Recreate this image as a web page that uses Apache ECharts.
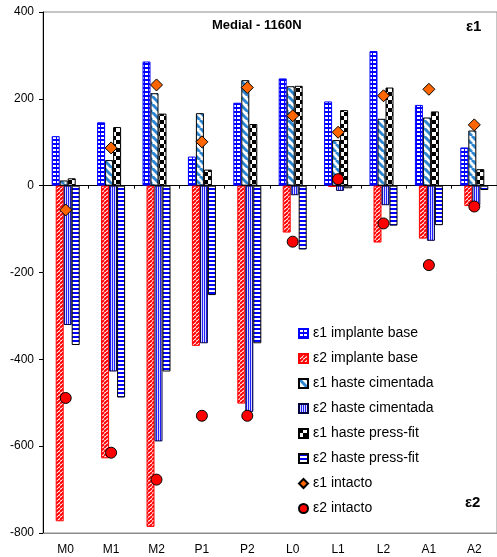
<!DOCTYPE html>
<html>
<head>
<meta charset="utf-8">
<script src="https://cdn.jsdelivr.net/npm/echarts@6/dist/echarts.min.js"></script>
<style>
  html, body { margin: 0; padding: 0; background: #fff; }
  #medialChart { width: 497px; height: 557px; }
</style>
</head>
<body>
<div id="medialChart"></div>
<script>
  // 数据
  const categories = ['M0', 'M1', 'M2', 'P1', 'P2', 'L0', 'L1', 'L2', 'A1', 'A2'];
  const e1ImplanteBase   = [114, 146, 286, 67, 191, 247, 194, 310, 186, 88];
  const e2ImplanteBase   = [-773, -628, -786, -369, -502, -108, -3, -131, -122, -47];
  const e1HasteCimentada = [12, 59, 213, 167, 243, 229, 105, 154, 157, 127];
  const e2HasteCimentada = [-321, -428, -589, -363, -521, -22, -12, -45, -127, -45];
  const e1HastePressFit  = [17, 135, 166, 37, 142, 230, 174, 226, 171, 38];
  const e2HastePressFit  = [-367, -488, -428, -252, -363, -147, -6, -92, -91, -10];
  const e1Intacto        = [-56, 87, 232, 101, 226, 161, 123, 207, 222, 140];
  const e2Intacto        = [-489, -615, -677, -530, -530, -129, 15, -87, -183, -48];
  const yTicks = { min: -800, max: 400, interval: 200 };

  const fontFamily = 'Liberation Sans, Arial, sans-serif';

  // 填充图案
  function makePattern(w, h, draw) {
    const c = document.createElement('canvas');
    c.width = w;
    c.height = h;
    draw(c.getContext('2d'), w, h);
    return { image: c, repeat: 'repeat' };
  }

  const brickBlue = makePattern(4, 4, function (ctx) {
    ctx.fillStyle = '#0000ff';
    ctx.fillRect(0, 0, 4, 4);
    ctx.fillStyle = '#ffffff';
    ctx.fillRect(1, 1, 3, 2);
  });
  const diagRed = makePattern(4, 4, function (ctx, s) {
    ctx.fillStyle = '#ffffff';
    ctx.fillRect(0, 0, s, s);
    ctx.strokeStyle = '#ff0000';
    ctx.lineWidth = 2;
    [-s, 0, s].forEach(function (x0) {
      ctx.beginPath();
      ctx.moveTo(x0, s);
      ctx.lineTo(x0 + s, 0);
      ctx.stroke();
    });
  });
  const diagLightBlue = makePattern(8, 8, function (ctx, s) {
    ctx.fillStyle = '#ffffff';
    ctx.fillRect(0, 0, s, s);
    ctx.strokeStyle = '#2f86d0';
    ctx.lineWidth = 3;
    [-s, 0, s].forEach(function (x0) {
      ctx.beginPath();
      ctx.moveTo(x0, 0);
      ctx.lineTo(x0 + s, s);
      ctx.stroke();
    });
  });
  const vertBlue = makePattern(2, 2, function (ctx) {
    ctx.fillStyle = '#d8d8ff';
    ctx.fillRect(0, 0, 2, 2);
    ctx.fillStyle = '#2020ff';
    ctx.fillRect(0, 0, 1, 2);
  });
  const checker = makePattern(8, 8, function (ctx) {
    ctx.fillStyle = '#ffffff';
    ctx.fillRect(0, 0, 8, 8);
    ctx.fillStyle = '#000000';
    ctx.fillRect(0, 0, 4, 4);
    ctx.fillRect(4, 4, 4, 4);
  });
  const horizBlue = makePattern(2, 4, function (ctx) {
    ctx.fillStyle = '#ffffff';
    ctx.fillRect(0, 0, 2, 4);
    ctx.fillStyle = '#0000ff';
    ctx.fillRect(0, 0, 2, 2);
  });

  function barSeries(name, data, fill, border) {
    return {
      name: name,
      type: 'bar',
      xAxisIndex: 0,
      data: data,
      barWidth: 8,
      barGap: '-50%',   // ε1 / ε2 柱子半重叠排列
      itemStyle: { color: fill, borderColor: border, borderWidth: 1 }
    };
  }

  const titleStyle = { fontWeight: 'bold', color: '#000', fontFamily: fontFamily };

  const option = {
    animation: false,
    textStyle: { fontFamily: fontFamily },
    title: [
      {
        text: 'Medial - 1160N',
        left: 212, top: 19, padding: 0,
        textStyle: Object.assign({ fontSize: 13 }, titleStyle)
      },
      {
        text: 'ε1',
        left: 466, top: 19, padding: 0,
        textStyle: Object.assign({ fontSize: 15 }, titleStyle)
      },
      {
        text: 'ε2',
        left: 465, top: 495, padding: 0,
        textStyle: Object.assign({ fontSize: 15 }, titleStyle)
      }
    ],
    legend: {
      orient: 'vertical',
      left: 293,
      top: 321,
      itemWidth: 9,
      itemHeight: 9,
      itemGap: 10,
      textStyle: { fontSize: 14, color: '#000', lineHeight: 15, fontFamily: fontFamily },
      data: [
        { name: 'ε1 implante base', icon: 'rect' },
        { name: 'ε2 implante base', icon: 'rect' },
        { name: 'ε1 haste cimentada', icon: 'rect' },
        { name: 'ε2 haste cimentada', icon: 'rect' },
        { name: 'ε1 haste press-fit', icon: 'rect' },
        { name: 'ε2 haste press-fit', icon: 'rect' },
        { name: 'ε1 intacto', icon: 'diamond' },
        { name: 'ε2 intacto', icon: 'circle' }
      ]
    },
    grid: {
      left: 43,
      right: -5,
      top: 12,
      bottom: 24,
      show: true,
      borderColor: '#8c8c8c',
      borderWidth: 1
    },
    xAxis: [
      {
        // 零线 + 刻度
        type: 'category',
        data: categories,
        position: 'bottom',
        axisLine: { onZero: true, lineStyle: { color: '#000', width: 1 } },
        axisTick: { show: true, length: 3, lineStyle: { color: '#000' } },
        axisLabel: { show: false }
      },
      {
        // 底部类目标签
        type: 'category',
        data: categories,
        position: 'bottom',
        axisLine: { onZero: false, lineStyle: { color: '#8c8c8c', width: 1 } },
        axisTick: { show: false },
        axisLabel: { show: true, fontSize: 12, color: '#000', margin: 11, fontFamily: fontFamily }
      }
    ],
    yAxis: {
      type: 'value',
      min: yTicks.min,
      max: yTicks.max,
      interval: yTicks.interval,
      axisLine: { show: true, lineStyle: { color: '#000', width: 1 } },
      axisTick: { show: true, length: 4, lineStyle: { color: '#000' } },
      splitLine: { show: false },
      axisLabel: { fontSize: 12, color: '#000', margin: 9, fontFamily: fontFamily }
    },
    series: [
      barSeries('ε1 implante base', e1ImplanteBase, brickBlue, '#0000ff'),
      barSeries('ε2 implante base', e2ImplanteBase, diagRed, '#ff0000'),
      barSeries('ε1 haste cimentada', e1HasteCimentada, diagLightBlue, '#000'),
      barSeries('ε2 haste cimentada', e2HasteCimentada, vertBlue, '#000040'),
      barSeries('ε1 haste press-fit', e1HastePressFit, checker, '#000'),
      barSeries('ε2 haste press-fit', e2HastePressFit, horizBlue, '#000'),
      {
        name: 'ε1 intacto',
        type: 'scatter',
        xAxisIndex: 0,
        data: e1Intacto,
        symbol: 'diamond',
        symbolSize: 12,
        z: 5,
        itemStyle: { color: '#ff6600', borderColor: '#000', borderWidth: 1, opacity: 1 }
      },
      {
        name: 'ε2 intacto',
        type: 'scatter',
        xAxisIndex: 0,
        data: e2Intacto,
        symbol: 'circle',
        symbolSize: 11,
        z: 5,
        itemStyle: { color: '#ff0000', borderColor: '#000', borderWidth: 1, opacity: 1 }
      }
    ]
  };

  const medialChart = echarts.init(document.getElementById('medialChart'));
  medialChart.setOption(option);
</script>
</body>
</html>
